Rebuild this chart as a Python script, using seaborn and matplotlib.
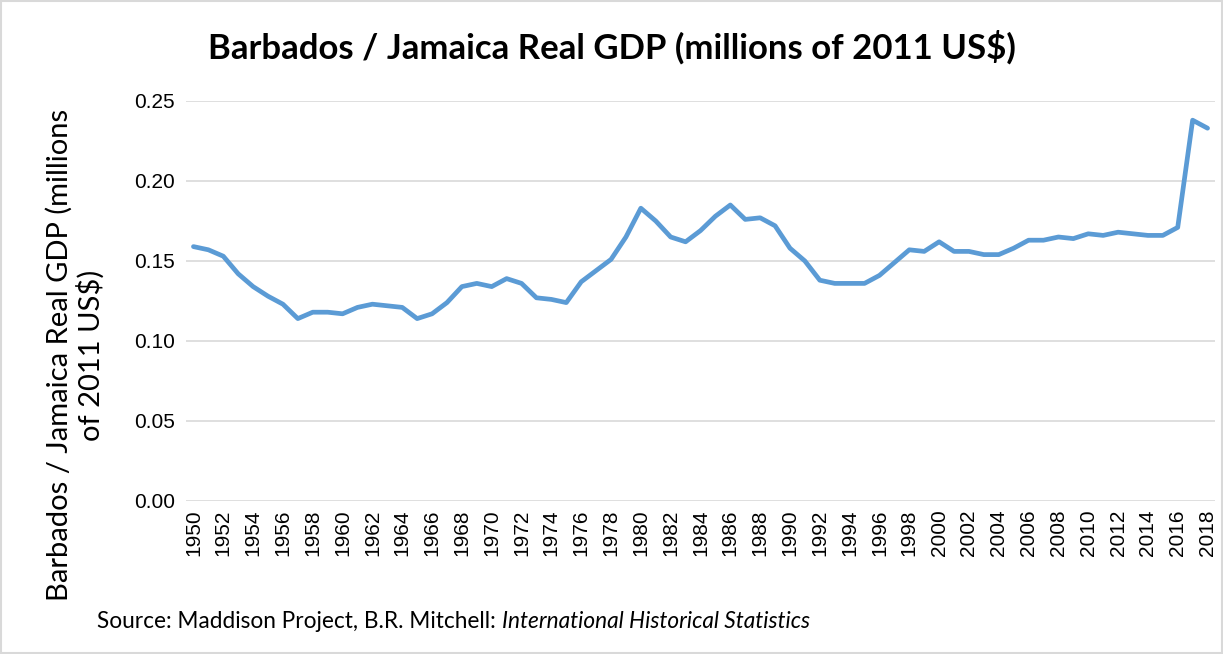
import pandas as pd
import seaborn as sns
import matplotlib.pyplot as plt
from matplotlib.patches import Rectangle

# Dados
anos = list(range(1950, 2019))
razao = [0.159, 0.157, 0.153, 0.142, 0.134, 0.128, 0.123, 0.114, 0.118, 0.118,
         0.117, 0.121, 0.123, 0.122, 0.121, 0.114, 0.117, 0.124, 0.134, 0.136,
         0.134, 0.139, 0.136, 0.127, 0.126, 0.124, 0.137, 0.144, 0.151, 0.165,
         0.183, 0.175, 0.165, 0.162, 0.169, 0.178, 0.185, 0.176, 0.177, 0.172,
         0.158, 0.150, 0.138, 0.136, 0.136, 0.136, 0.141, 0.149, 0.157, 0.156,
         0.162, 0.156, 0.156, 0.154, 0.154, 0.158, 0.163, 0.163, 0.165, 0.164,
         0.167, 0.166, 0.168, 0.167, 0.166, 0.166, 0.171, 0.238, 0.233]
yticks = [0.00, 0.05, 0.10, 0.15, 0.20, 0.25]

df = pd.DataFrame({'Ano': anos, 'Razao': razao})
df['pos'] = range(len(df))

sns.set_style('white')
plt.rcParams['font.family'] = ['Liberation Sans', 'DejaVu Sans']
plt.rcParams['text.color'] = 'black'
plt.rcParams['xtick.color'] = 'black'
plt.rcParams['ytick.color'] = 'black'

fig = plt.figure(figsize=(12.23, 6.54), dpi=100)
ax = fig.add_axes([186 / 1223, 1 - 501 / 654, (1215 - 186) / 1223, 400 / 654])

sns.lineplot(data=df, x='pos', y='Razao', ax=ax, color='#5B9BD5', linewidth=3.4,
             solid_capstyle='round', solid_joinstyle='round', zorder=3)

ax.set_xlim(-0.5, len(anos) - 0.5)
ax.set_ylim(0, 0.25)
ax.set_yticks(yticks)
ax.set_yticklabels([f'{v:.2f}' for v in yticks], fontsize=15)
ax.set_xticks(df['pos'][::2])
ax.set_xticklabels(df['Ano'][::2], rotation=90, fontsize=15)
ax.tick_params(axis='both', length=0, pad=8)
ax.tick_params(axis='x', pad=6)
ax.grid(axis='y', color='#D9D9D9', linewidth=1.2)
for s in ax.spines.values():
    s.set_visible(False)
ax.set_xlabel('')
ax.set_ylabel('')

fig.text(0.5, 1 - 47 / 654, 'Barbados / Jamaica Real GDP (millions of 2011 US$)',
         ha='center', va='center', fontsize=25, fontweight='bold', family='Lato')
fig.text(75 / 1223, 1 - 355 / 654, 'Barbados / Jamaica Real GDP (millions\nof 2011 US$)',
         ha='center', va='center', rotation=90, fontsize=21, family='Lato',
         multialignment='center', linespacing=1.15)

t1 = fig.text(97 / 1223, 1 - 621 / 654, 'Source: Maddison Project, B.R. Mitchell: ',
              ha='left', va='center', fontsize=16.3, family='Lato')
fig.canvas.draw()
bb = t1.get_window_extent()
fig.text(bb.x1 / fig.bbox.width, 1 - 621 / 654, 'International Historical Statistics',
         ha='left', va='center', fontsize=16.3, family='Lato', style='italic')

fig.patches.append(Rectangle((0.001, 0.001), 0.998, 0.997, transform=fig.transFigure,
                             fill=False, edgecolor='#D9D9D9', linewidth=1.5))

plt.savefig('out.png', dpi=100)
